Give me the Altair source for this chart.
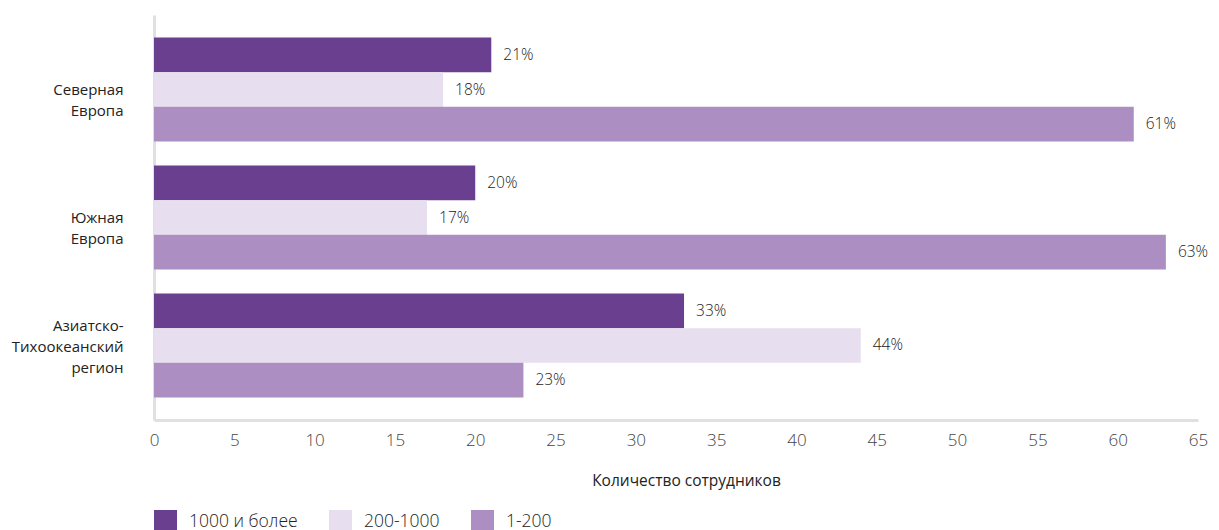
import altair as alt
import pandas as pd

regions = ["Северная|Европа", "Южная|Европа", "Азиатско-|Тихоокеанский|регион"]
series = ["1000 и более", "200-1000", "1-200"]
north = [21, 18, 61]
south = [20, 17, 63]
asia = [33, 44, 23]
colors = ["#6A3F90", "#E7DEEF", "#AC8EC3"]

rows = []
for reg, vals in zip(regions, [north, south, asia]):
    for s, v in zip(series, vals):
        rows.append({"region": reg, "series": s, "value": v, "label": f"{v}%"})
df = pd.DataFrame(rows)

FONT = "Open Sans"

y = alt.Y("region:N", sort=regions, title=None,
          scale=alt.Scale(paddingInner=0.1875, paddingOuter=0.176),
          axis=alt.Axis(labelExpr="split(datum.label, '|')", labelFontSize=15,
                        labelColor="#222", labelPadding=31, labelLineHeight=21,
                        labelOffset={"condition": {"test": "indexof(datum.value, 'регион') >= 0",
                                                   "value": -19}, "value": 0},
                        ticks=False, domainColor="#E0E0E0", domainWidth=3,
                        labelFont=FONT))
yoff = alt.YOffset("series:N", sort=series, scale=alt.Scale(paddingInner=0, paddingOuter=0))

base = alt.Chart(df)
bars = base.mark_bar().encode(
    x=alt.X("value:Q", title="Количество сотрудников",
            scale=alt.Scale(domain=[0, 65], nice=False),
            axis=alt.Axis(values=list(range(0, 70, 5)), grid=False, ticks=False,
                          labelFlush=False,
                          labelFontSize=17, labelColor="#444", labelPadding=12,
                          labelFont=FONT, labelFontWeight=300,
                          domainColor="#E0E0E0", domainWidth=3,
                          titleFontSize=15.5, titleColor="#222", titleFontWeight="normal",
                          titleFont=FONT, titlePadding=25, titleX=532)),
    y=y,
    yOffset=yoff,
    color=alt.Color("series:N", sort=series,
                    scale=alt.Scale(domain=series, range=colors),
                    legend=alt.Legend(title=None, orient="none", direction="horizontal",
                                      legendX=0, legendY=495,
                                      symbolType="square", symbolSize=529,
                                      symbolStrokeWidth=0, labelFontSize=17.5,
                                      labelFont=FONT, labelColor="#222",
                                      labelFontWeight=300,
                                      labelOffset=12, columnPadding=31)),
)
texts = base.mark_text(align="left", baseline="middle", dx=12, fontSize=15.5,
                       color="#222", font=FONT, fontWeight=300).encode(
    x="value:Q",
    y=alt.Y("region:N", sort=regions),
    yOffset=yoff, text="label:N")

chart = (bars + texts).properties(
    width=1044, height=405,
    autosize=alt.AutoSizeParams(type="none"),
    padding={"left": 146, "top": 7, "right": 13, "bottom": 120},
    background="white",
).configure_view(strokeWidth=0)

chart.save("out.html", embed_options={"renderer": "svg", "actions": False})
